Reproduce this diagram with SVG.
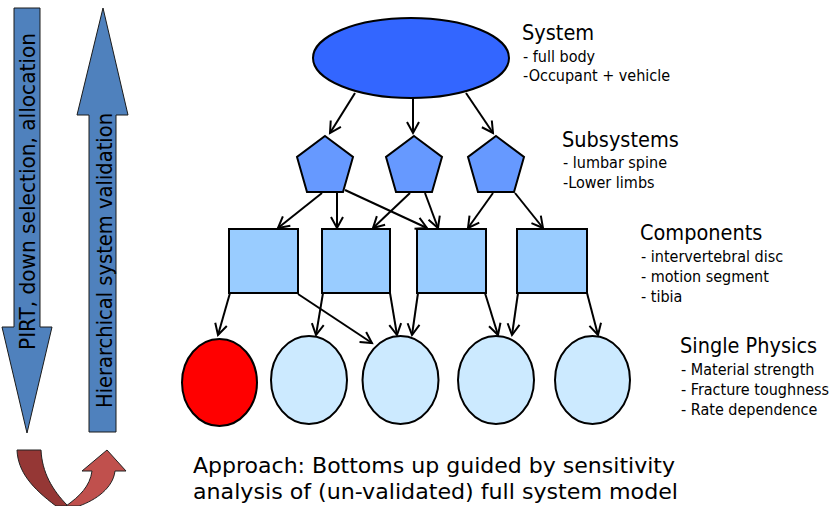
<svg xmlns="http://www.w3.org/2000/svg" width="836" height="506" viewBox="0 0 836 506">
<style>
text{font-family:"DejaVu Sans Condensed","DejaVu Sans",sans-serif;font-stretch:condensed;fill:#000}
.h{font-size:21.5px}
.s{font-size:16px}
.big{font-size:22px}
.bot{font-size:21.5px}
.node{stroke:#000;stroke-width:2}
.conn line{stroke:#000;stroke-width:2;marker-end:url(#ah)}
.barrow{fill:#4f81bd;stroke:#1a1a1a;stroke-width:1}
</style>
<defs>
<marker id="ah" markerUnits="userSpaceOnUse" markerWidth="14" markerHeight="14" refX="11" refY="6" orient="auto" overflow="visible">
<path d="M0,0 L11,6 L0,12" fill="none" stroke="#000" stroke-width="2"/>
</marker>
</defs>
<rect width="836" height="506" fill="#fff"/>

<g id="arrow-down">
<polygon class="barrow" points="14,8 40,8 40,327 52,327 27,433 2,327 14,327"/>
<text class="big" transform="translate(35,191.5) rotate(-90)" text-anchor="middle" textLength="317" lengthAdjust="spacingAndGlyphs">PIRT, down selection, allocation</text>
</g>
<g id="arrow-up">
<polygon class="barrow" points="103,8 128,115 116,115 116,432 89,432 89,115 77,115"/>
<text class="big" transform="translate(112,260.5) rotate(-90)" text-anchor="middle" textLength="295" lengthAdjust="spacingAndGlyphs">Hierarchical system validation</text>
</g>
<g id="uturn">
<path d="M17,450 L41,450 C42,472 52,490 68,506 L56,506 C32,488 18,472 17,450 Z" fill="#953735" stroke="#222" stroke-width="1"/>
<path d="M66,506 C80,496 90,486 92,471 L82,471 L107,450 L126,471 L115,471 C113,488 96,500 79,506 Z" fill="#c0504d" stroke="#222" stroke-width="1"/>
</g>

<g id="system"><ellipse class="node" cx="411" cy="58" rx="98" ry="40" fill="#3366ff"/></g>
<g id="sub1"><polygon class="node" points="325,136 353,157 343,192 307,192 297,157" fill="#6699ff"/></g>
<g id="sub2"><polygon class="node" points="414,136 442,157 432,192 396,192 386,157" fill="#6699ff"/></g>
<g id="sub3"><polygon class="node" points="496,136 524,157 514,192 478,192 468,157" fill="#6699ff"/></g>
<g id="comp1"><rect class="node" x="229" y="229" width="69" height="64" fill="#99ccff"/></g>
<g id="comp2"><rect class="node" x="322" y="229" width="68" height="64" fill="#99ccff"/></g>
<g id="comp3"><rect class="node" x="417" y="229" width="69" height="64" fill="#99ccff"/></g>
<g id="comp4"><rect class="node" x="517" y="229" width="70" height="64" fill="#99ccff"/></g>
<g id="phys1"><ellipse class="node" cx="219.5" cy="382.5" rx="37.5" ry="43.5" fill="#ff0000"/></g>
<g id="phys2"><ellipse class="node" cx="309" cy="380" rx="38" ry="44" fill="#cceaff"/></g>
<g id="phys3"><ellipse class="node" cx="400.5" cy="380" rx="38" ry="44" fill="#cceaff"/></g>
<g id="phys4"><ellipse class="node" cx="496" cy="380" rx="38" ry="44" fill="#cceaff"/></g>
<g id="phys5"><ellipse class="node" cx="592.5" cy="380" rx="37.5" ry="44" fill="#cceaff"/></g>

<g id="connectors" class="conn">
<line x1="355" y1="93" x2="330" y2="133"/>
<line x1="413" y1="98" x2="413" y2="133"/>
<line x1="466" y1="93" x2="493" y2="133"/>
<line x1="322" y1="193" x2="278" y2="228"/>
<line x1="337" y1="193" x2="337" y2="228"/>
<line x1="345" y1="190" x2="427" y2="228"/>
<line x1="410" y1="193" x2="373" y2="228"/>
<line x1="425" y1="193" x2="438" y2="228"/>
<line x1="493" y1="193" x2="468" y2="228"/>
<line x1="515" y1="193" x2="543" y2="228"/>
<line x1="230" y1="293" x2="218" y2="335"/>
<line x1="298" y1="294" x2="372" y2="343"/>
<line x1="323" y1="293" x2="316" y2="335"/>
<line x1="390" y1="293" x2="397" y2="335"/>
<line x1="418" y1="293" x2="412" y2="335"/>
<line x1="485" y1="293" x2="498" y2="335"/>
<line x1="518" y1="293" x2="512" y2="335"/>
<line x1="587" y1="293" x2="598" y2="335"/>
</g>

<g id="labels">
<text class="h" x="522" y="40">System</text>
<text class="s" x="523" y="62">- full body</text>
<text class="s" x="523" y="81">-Occupant + vehicle</text>
<text class="h" x="562" y="147">Subsystems</text>
<text class="s" x="563" y="168">- lumbar spine</text>
<text class="s" x="563" y="188">-Lower limbs</text>
<text class="h" x="640" y="240">Components</text>
<text class="s" x="641" y="262">- intervertebral disc</text>
<text class="s" x="641" y="282">- motion segment</text>
<text class="s" x="641" y="302">- tibia</text>
<text class="h" x="680" y="353">Single Physics</text>
<text class="s" x="681" y="375">- Material strength</text>
<text class="s" x="681" y="395">- Fracture toughness</text>
<text class="s" x="681" y="415">- Rate dependence</text>
<text class="bot" x="193" y="473" textLength="482" lengthAdjust="spacingAndGlyphs">Approach: Bottoms up guided by sensitivity</text>
<text class="bot" x="193" y="499" textLength="485" lengthAdjust="spacingAndGlyphs">analysis of (un-validated) full system model</text>
</g>
</svg>
